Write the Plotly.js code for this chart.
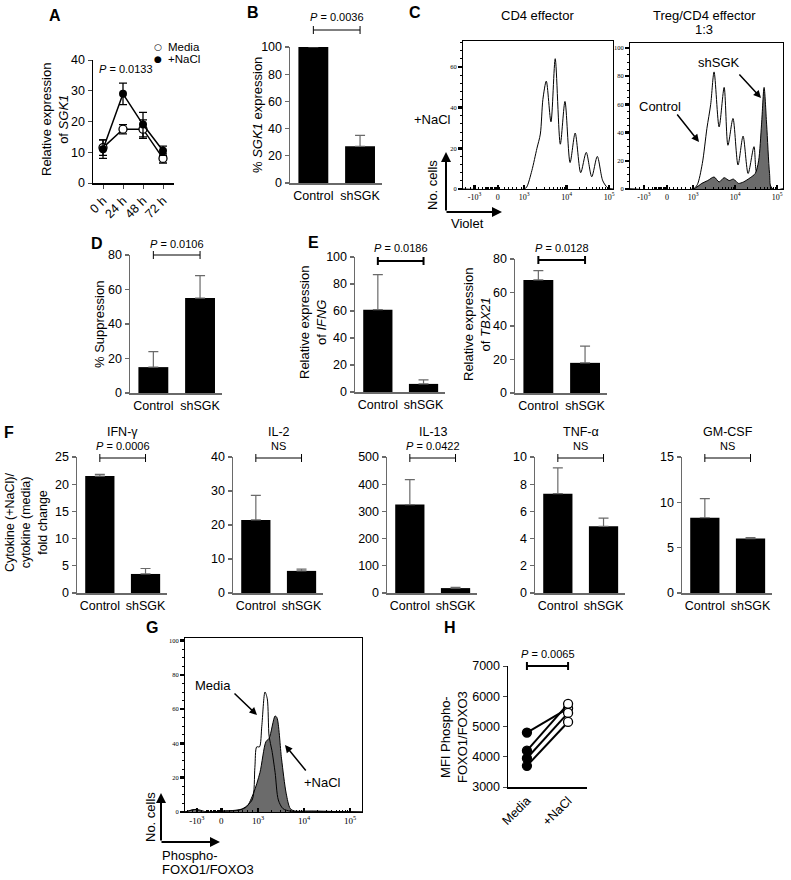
<!DOCTYPE html>
<html><head><meta charset="utf-8">
<script src="https://cdn.plot.ly/plotly-3.0.1.min.js"></script>
<style>body{margin:0;background:#fff}#chart{width:791px;height:880px}</style>
</head><body><div id="chart"></div>
<script>
// ---------------- DATA ----------------
const timeLabels = ['0 h', '24 h', '48 h', '72 h'];
const sgkMedia = [11.5, 17.5, 17.5, 8];
const sgkMediaErr = [2.5, 1.5, 3, 1.5];
const sgkNaCl = [11, 29, 19, 10.5];
const sgkNaClErr = [3, 3.5, 4, 1.5];

const groups = ['Control', 'shSGK'];
const sgkKnock = [100, 27];
const sgkKnockErr = [0, 8];
const suppression = [15, 55];
const suppressionErr = [9, 13];
const ifng = [61, 6];
const ifngErr = [26, 3];
const tbx21 = [67.5, 18];
const tbx21Err = [5.5, 10];

const cytokineNames = ['IFN-γ', 'IL-2', 'IL-13', 'TNF-α', 'GM-CSF'];
const cytoControl = [21.5, 21.5, 325, 7.3, 8.3];
const cytoControlErr = [0.3, 7.2, 92, 1.9, 2.1];
const cytoShSGK = [3.5, 6.5, 18, 4.9, 6.0];
const cytoShSGKErr = [1.0, 0.5, 3, 0.6, 0.1];
const cytoPLabels = ['<i>P</i> = 0.0006', 'NS', '<i>P</i> = 0.0422', 'NS', 'NS'];
const cytoYMax = [25, 40, 500, 10, 15];
const cytoYStep = [5, 10, 100, 2, 5];

// flow histograms (x in decades relative to 10^3; y = % of max)
const flowTickVals = [-1.17, -0.62, 0, 1, 2];
const flowTickText = ['-10<sup>3</sup>', '0', '10<sup>3</sup>', '10<sup>4</sup>', '10<sup>5</sup>'];
const cd4X = [-1.44, 0.0, 0.06, 0.18, 0.3, 0.38, 0.44, 0.52, 0.63, 0.73, 0.85, 0.96, 1.08, 1.2, 1.33, 1.46, 1.59, 1.72, 1.85, 1.97, 2.09];
const cd4Y = [0, 0, 1, 9, 20, 27, 44, 53, 33, 64, 22, 43, 13, 27.5, 8, 18, 6, 16, 4, 0.5, 0];
const tregCtrlX = [-1.5, 0, 0.1, 0.22, 0.33, 0.42, 0.5, 0.62, 0.74, 0.83, 0.95, 1.07, 1.19, 1.31, 1.45, 1.52, 1.6, 1.75, 1.9, 2.14];
const tregCtrlY = [0, 0, 3, 18, 43, 60, 83, 44, 72, 31, 50, 17, 37.5, 11, 30, 11, 12, 8, 0, 0];
const tregShX = [-1.5, 0, 0.21, 0.35, 0.5, 0.62, 0.74, 0.86, 0.96, 1.08, 1.2, 1.36, 1.48, 1.56, 1.63, 1.69, 1.75, 1.82, 1.87, 2.14];
const tregShY = [0, 0, 4, 6, 8.5, 5, 8, 6, 7, 4, 5, 8, 11, 20, 46, 72, 46, 11, 0, 0];

const foxoTickVals = [-1.33, -0.8, 0, 1, 2];
const foxoMediaX = [-1.59, -1.35, -1.1, -0.8, -0.5, -0.33, -0.13, -0.07, -0.03, 0.03, 0.08, 0.15, 0.2, 0.24, 0.3, 0.37, 0.44, 0.54, 0.7, 1.0, 2.26];
const foxoMediaY = [0, 1.5, 0, 0.5, 1, 2, 7, 26, 38, 38, 50, 70, 66, 44, 36, 23, 7, 2, 0.5, 0.5, 0];
const foxoNaClX = [-1.59, -1.35, -1.2, -0.8, -0.43, -0.25, -0.1, 0.04, 0.17, 0.24, 0.37, 0.41, 0.51, 0.61, 0.7, 0.8, 1.2, 2.26];
const foxoNaClY = [0, 1.5, 0, 0.5, 1, 3, 11, 23, 41, 43, 56, 55, 31, 11, 2, 0.5, 0.5, 0];

const mfiGroups = ['Media', '+NaCl'];
const mfiMedia = [4800, 4200, 3950, 3700];
const mfiNaCl = [5600, 5750, 5450, 5150];

// ---------------- LAYOUT HELPERS ----------------
const W = 791, H = 880;
const px = a => a / W, py = a => 1 - a / H;
const FONT = 'Liberation Sans, Arial, sans-serif';
const SERIF = 'Liberation Serif, Times New Roman, serif';
const GREYAX = '#6a6a6a';
const traces = [];
const layout = {
  width: W, height: H, margin: {l: 0, r: 0, t: 0, b: 0}, showlegend: false,
  paper_bgcolor: '#fff', plot_bgcolor: 'rgba(0,0,0,0)',
  font: {family: FONT, size: 12, color: '#000'}, annotations: [], shapes: []
};
let n = 0;
function addAxes(L, R, T, B, xopt, yopt) {
  n++;
  const s = n === 1 ? '' : String(n);
  layout['xaxis' + s] = Object.assign({domain: [px(L), px(R)], anchor: 'y' + s, showgrid: false, zeroline: false, fixedrange: true}, xopt);
  layout['yaxis' + s] = Object.assign({domain: [py(B), py(T)], anchor: 'x' + s, showgrid: false, zeroline: false, fixedrange: true}, yopt);
  return {x: 'x' + s, y: 'y' + s};
}
function ann(x, y, text, o) {
  layout.annotations.push(Object.assign({xref: 'paper', yref: 'paper', x: px(x), y: py(y), text: text, showarrow: false,
    xanchor: 'center', yanchor: 'middle', font: {family: FONT, size: 12, color: '#000'}}, o || {}));
}
function arrow(hx, hy, tx, ty, w) {
  layout.annotations.push({xref: 'paper', yref: 'paper', x: px(hx), y: py(hy), ax: tx - hx, ay: ty - hy, text: '',
    showarrow: true, arrowhead: 2, arrowsize: 1, arrowwidth: w || 1.5, arrowcolor: '#000'});
}
function label(x, y, t) { ann(x, y, '<b>' + t + '</b>', {font: {family: FONT, size: 16, color: '#000'}}); }
function ytitle(x, y, t, sz) { ann(x, y, t, {textangle: -90, font: {family: FONT, size: sz || 13, color: '#000'}}); }

function barPanel(L, R, T, B, ymax, step, vals, errs, axc) {
  const ax = addAxes(L, R, T, B,
    {type: 'category', range: [-0.5, 1.47], showline: true, linecolor: axc, linewidth: 1.5, ticks: '', tickfont: {family: FONT, size: 12.5, color: '#000'}},
    {range: [0, ymax], dtick: step, showline: true, linecolor: axc, linewidth: 1.5, ticks: 'outside', ticklen: 4, tickwidth: 1.2, tickcolor: axc, tickfont: {family: FONT, size: 12.5, color: '#000'}});
  traces.push({type: 'bar', x: groups, y: vals, xaxis: ax.x, yaxis: ax.y, width: 0.64, marker: {color: '#000', line: {width: 0}},
    error_y: {type: 'data', array: errs, arrayminus: [0, 0], symmetric: false, color: axc, thickness: 1.2, width: 5}});
  return ax;
}
// significance bracket drawn between the two category centres at pixel height yPix
function bracket(ax, yPix, w) {
  const st = {color: '#000', width: w};
  layout.shapes.push({type: 'line', xref: ax.x, yref: 'paper', x0: 0, x1: 1, y0: py(yPix), y1: py(yPix), line: st});
  [0, 1].forEach(c => layout.shapes.push({type: 'line', xref: ax.x, yref: 'paper', x0: c, x1: c, y0: py(yPix - 4), y1: py(yPix + 4), line: st}));
}
function pText(ax, t, y) {
  layout.annotations.push({xref: ax.x, yref: 'paper', x: 0.5, y: py(y), text: t, showarrow: false, xanchor: 'center', yanchor: 'middle',
    font: {family: FONT, size: 11, color: '#000'}});
}

// minor ticks for biexponential axes
function minorTicks(zeroPos, negPos, xmax) {
  const v = [];
  for (let d = 0; d < 3; d++) for (let k = 2; k <= 9; k++) { const p = d + Math.log10(k); if (p < xmax) v.push(p); }
  for (let p = negPos - 0.2; p < -0.05; p += 0.1) v.push(p);
  for (let p = zeroPos - 0.3; p < zeroPos + 0.02; p += 0.03) v.push(p);
  return v;
}
function flowAxes(L, R, T, B, xr, yr, yticks, ymin, tickvals, xfs) {
  return addAxes(L, R, T, B,
    {range: xr, showline: true, mirror: true, linecolor: '#000', linewidth: 1, ticks: 'inside', ticklen: 4, tickwidth: 2.5, tickcolor: '#000',
      tickmode: 'array', tickvals: tickvals, ticktext: flowTickText, tickfont: {family: SERIF, size: xfs, color: '#000'},
      minor: {tickmode: 'array', tickvals: minorTicks(tickvals[1], tickvals[0], xr[1]), ticks: 'inside', ticklen: 2.5, tickwidth: 1, tickcolor: '#000'}},
    {range: yr, showline: true, mirror: true, linecolor: '#000', linewidth: 1, ticks: 'outside', ticklen: 4, tickwidth: 2.5, tickcolor: '#000',
      tickmode: 'array', tickvals: yticks, tickfont: {family: SERIF, size: 6.5, color: '#000'},
      minor: {dtick: ymin, ticks: 'outside', ticklen: 2, tickwidth: 1, tickcolor: '#000'}});
}
function hist(ax, xs, ys, fill) {
  traces.push({type: 'scatter', x: xs, y: ys, xaxis: ax.x, yaxis: ax.y, mode: 'lines', line: {color: '#000', width: 1, shape: 'spline', smoothing: 0.8},
    fill: fill ? 'tozeroy' : 'none', fillcolor: fill || 'rgba(0,0,0,0)', hoverinfo: 'skip'});
}

// ---------------- PANEL A ----------------
const axA = addAxes(93, 174, 60, 183,
  {type: 'category', range: [-0.5, 3.55], showline: true, linecolor: '#000', linewidth: 1.5, ticks: 'outside', ticklen: 4, tickangle: -45, tickfont: {family: FONT, size: 12.5, color: '#000'}},
  {range: [0, 40], dtick: 10, showline: true, linecolor: '#000', linewidth: 1.5, ticks: 'outside', ticklen: 4, tickfont: {family: FONT, size: 12.5, color: '#000'}});
traces.push({type: 'scatter', x: timeLabels, y: sgkMedia, xaxis: axA.x, yaxis: axA.y, mode: 'lines+markers', cliponaxis: false,
  line: {color: '#000', width: 1.5}, marker: {symbol: 'circle', size: 8, color: '#fff', line: {color: '#000', width: 1.3}},
  error_y: {type: 'data', array: sgkMediaErr, color: '#000', thickness: 1.3, width: 4}});
traces.push({type: 'scatter', x: timeLabels, y: sgkNaCl, xaxis: axA.x, yaxis: axA.y, mode: 'lines+markers', cliponaxis: false,
  line: {color: '#000', width: 1.5}, marker: {symbol: 'circle', size: 8, color: '#000'},
  error_y: {type: 'data', array: sgkNaClErr, color: '#000', thickness: 1.3, width: 4}});
label(55, 15, 'A');
ytitle(55, 120, 'Relative expression<br>of <i>SGK1</i>');
ann(97, 69, '<i>P</i> = 0.0133', {xanchor: 'left', font: {family: FONT, size: 11, color: '#000'}});
ann(158, 47, '○', {font: {family: 'DejaVu Sans', size: 9, color: '#000'}});
ann(158, 59, '●', {font: {family: 'DejaVu Sans', size: 9, color: '#000'}});
ann(166, 47, 'Media', {xanchor: 'left', font: {family: FONT, size: 11.5, color: '#000'}});
ann(166, 59, '+NaCl', {xanchor: 'left', font: {family: FONT, size: 11.5, color: '#000'}});

// ---------------- PANEL B ----------------
const axB = barPanel(290, 382, 47, 183, 100, 20, sgkKnock, sgkKnockErr, GREYAX);
bracket(axB, 30, 1);
pText(axB, '<i>P</i> = 0.0036', 17);
label(253, 13, 'B');
ytitle(258, 115, '% <i>SGK1</i> expression');

// ---------------- PANEL C ----------------
const axC1 = flowAxes(463, 613, 41, 189, [-1.44, 2.09], [0, 72.7], [0, 20, 40, 60], 4, flowTickVals, 8);
hist(axC1, cd4X, cd4Y, null);
const axC2 = flowAxes(630, 783, 43, 189, [-1.5, 2.14], [0, 103.5], [0, 20, 40, 60, 80, 100], 5, flowTickVals, 8);
hist(axC2, tregCtrlX, tregCtrlY, '#fff');
hist(axC2, tregShX, tregShY, '#6b6b6b');
label(415, 13, 'C');
ann(537, 15, 'CD4 effector', {font: {family: FONT, size: 13, color: '#000'}});
ann(704, 15, 'Treg/CD4 effector', {font: {family: FONT, size: 13, color: '#000'}});
ann(704, 30, '1:3', {font: {family: FONT, size: 13, color: '#000'}});
ann(432, 120, '+NaCl', {font: {family: FONT, size: 13, color: '#000'}});
ann(719, 63, 'shSGK', {font: {family: FONT, size: 13, color: '#000'}});
arrow(761, 98, 738, 73, 1.5);
ann(660, 106, 'Control', {font: {family: FONT, size: 13, color: '#000'}});
arrow(699, 142, 676, 113, 1.5);
arrow(446, 152, 446, 212, 2);
arrow(502, 212, 445, 212, 2);
ytitle(433, 185, 'No. cells');
ann(467, 224, 'Violet', {font: {family: FONT, size: 13, color: '#000'}});

// ---------------- PANEL D ----------------
const axD = barPanel(130, 222, 255, 393, 80, 20, suppression, suppressionErr, GREYAX);
bracket(axD, 255, 1);
pText(axD, '<i>P</i> = 0.0106', 244);
label(97, 243, 'D');
ytitle(99, 325, '% Suppression');

// ---------------- PANEL E ----------------
const axE1 = barPanel(355, 445, 257, 392, 100, 20, ifng, ifngErr, GREYAX);
bracket(axE1, 261, 2);
pText(axE1, '<i>P</i> = 0.0186', 248);
const axE2 = barPanel(515, 607, 259, 393, 80, 20, tbx21, tbx21Err, GREYAX);
bracket(axE2, 260, 2);
pText(axE2, '<i>P</i> = 0.0128', 248);
label(313, 242, 'E');
ytitle(313, 323, 'Relative expression<br>of <i>IFNG</i>');
ytitle(477, 325, 'Relative expression<br>of <i>TBX21</i>');

// ---------------- PANEL F ----------------
const fL = [77, 233, 387, 535, 682];
cytokineNames.forEach((name, i) => {
  const ax = barPanel(fL[i], fL[i] + 90, 457, 593, cytoYMax[i], cytoYStep[i], [cytoControl[i], cytoShSGK[i]], [cytoControlErr[i], cytoShSGKErr[i]], GREYAX);
  bracket(ax, 458, 1);
  pText(ax, cytoPLabels[i], 446);
  ann(fL[i] + 46, 432, name, {font: {family: FONT, size: 12.5, color: '#000'}});
});
label(9, 432, 'F');
ytitle(26, 522, 'Cytokine (+NaCl)/<br>cytokine (media)<br>fold change', 12.5);

// ---------------- PANEL G ----------------
const axG = flowAxes(185, 362, 638, 812, [-1.59, 2.26], [0, 101.5], [0, 20, 40, 60, 80, 100], 5, foxoTickVals, 9);
hist(axG, foxoNaClX, foxoNaClY, '#6b6b6b');
hist(axG, foxoMediaX, foxoMediaY, null);
label(152, 627, 'G');
ann(213, 685, 'Media', {font: {family: FONT, size: 13, color: '#000'}});
arrow(257, 715, 233, 692, 1.5);
ann(322, 782, '+NaCl', {font: {family: FONT, size: 13, color: '#000'}});
arrow(285, 745, 307, 772, 1.5);
arrow(161, 793, 161, 842, 2);
arrow(220, 842, 160, 842, 2);
ytitle(150, 817, 'No. cells');
ann(160, 855, 'Phospho-', {xanchor: 'left', font: {family: FONT, size: 13, color: '#000'}});
ann(160, 869, 'FOXO1/FOXO3', {xanchor: 'left', font: {family: FONT, size: 13, color: '#000'}});

// ---------------- PANEL H ----------------
const axH = addAxes(508, 587, 666, 787,
  {type: 'category', range: [-0.46, 1.46], showline: true, linecolor: '#000', linewidth: 1.5, ticks: '', tickangle: -45, tickfont: {family: FONT, size: 12.5, color: '#000'}},
  {range: [3000, 7000], dtick: 1000, showline: true, linecolor: '#000', linewidth: 1.5, ticks: 'outside', ticklen: 4, tickfont: {family: FONT, size: 12.5, color: '#000'}});
mfiMedia.forEach((m, i) => {
  traces.push({type: 'scatter', x: mfiGroups, y: [m, mfiNaCl[i]], xaxis: axH.x, yaxis: axH.y, mode: 'lines+markers', cliponaxis: false,
    line: {color: '#000', width: 2}, marker: {symbol: 'circle', size: 9, color: ['#000', '#fff'], line: {color: '#000', width: 1.3}}});
});
bracket(axH, 666, 2);
pText(axH, '<i>P</i> = 0.0065', 654);
label(450, 627, 'H');
ytitle(454, 737, 'MFI Phospho-<br>FOXO1/FOXO3');

Plotly.newPlot('chart', traces, layout, {staticPlot: true, displayModeBar: false});
</script>
</body></html>
